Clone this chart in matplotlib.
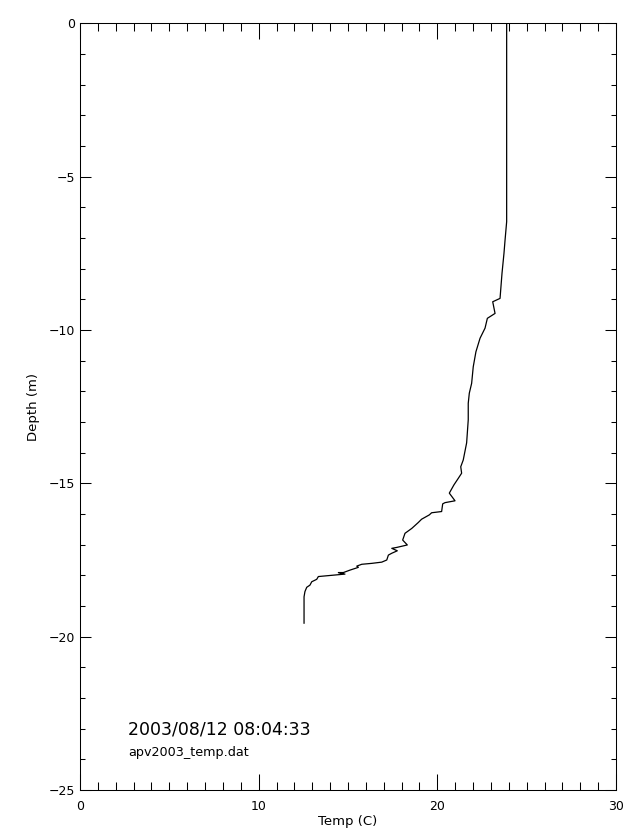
import matplotlib
matplotlib.use("Agg")
import matplotlib.pyplot as plt
from matplotlib.ticker import MultipleLocator

temp = [23.88, 23.88, 23.79, 23.73, 23.62, 23.51, 23.10, 23.23, 22.80, 22.67,
        22.39, 22.16, 22.01, 21.92, 21.79, 21.73, 21.73, 21.64, 21.45, 21.31,
        21.36, 21.17, 20.93, 20.67, 20.99, 20.43, 20.30, 20.24, 19.68, 19.55,
        19.12, 18.93, 18.57, 18.19, 18.06, 18.32, 17.73, 17.45, 17.76, 17.45,
        17.26, 17.17, 16.89, 16.33, 15.77, 15.49, 15.58, 15.11, 14.74, 14.46,
        14.83, 14.27, 13.71, 13.34, 13.25, 12.97, 12.87, 12.69, 12.59, 12.54,
        12.54]
depth = [0.00, -6.47, -7.07, -7.50, -8.15, -8.97, -9.08, -9.46, -9.62, -9.94,
         -10.27, -10.71, -11.20, -11.74, -12.06, -12.39, -12.93, -13.68, -14.24, -14.46,
         -14.67, -14.84, -15.05, -15.32, -15.57, -15.63, -15.67, -15.92, -15.96, -16.03,
         -16.17, -16.28, -16.47, -16.63, -16.85, -17.01, -17.09, -17.12, -17.20, -17.28,
         -17.34, -17.50, -17.57, -17.61, -17.64, -17.70, -17.74, -17.83, -17.91, -17.91,
         -17.96, -17.99, -18.02, -18.04, -18.13, -18.21, -18.32, -18.39, -18.53, -18.70,
         -19.56]

x_ticks = [0, 10, 20, 30]
y_ticks = [-25, -20, -15, -10, -5, 0]
timestamp = "2003/08/12 08:04:33"
filename = "apv2003_temp.dat"

plt.rcParams['font.family'] = ['DejaVu Sans']
fig = plt.figure(figsize=(6.4, 8.4), dpi=100)
ax = fig.add_axes([80/640, 50/840, 536/640, 766.7/840])

ax.plot(temp, depth, color='black', lw=0.9)

ax.set_xlim(0, 30)
ax.set_ylim(-25, 0)
ax.set_xticks(x_ticks)
ax.set_yticks(y_ticks)
ax.xaxis.set_minor_locator(MultipleLocator(1))
ax.yaxis.set_minor_locator(MultipleLocator(1))
ax.tick_params(axis='both', which='both', direction='in', top=True, right=True,
               width=0.75, colors='black', labelsize=9)
ax.tick_params(axis='x', which='major', length=11.3, pad=7.5)
ax.tick_params(axis='x', which='minor', length=5.6)
ax.tick_params(axis='y', which='major', length=8.0, pad=3.5)
ax.tick_params(axis='y', which='minor', length=3.8)
for s in ax.spines.values():
    s.set_linewidth(0.75)

ax.set_xlabel("Temp (C)", fontsize=9.5, va='center')
ax.xaxis.set_label_coords(0.5, (790 - 821) / 766.7)
ax.set_ylabel("Depth (m)", fontsize=9.5, va='center')
ax.yaxis.set_label_coords((33 - 80) / 536, 0.5)

ax.text(2.70, -23.02, timestamp, fontsize=12.5, ha='left', va='center')
ax.text(2.70, -23.78, filename, fontsize=9.2, ha='left', va='center')

fig.savefig("out.png", dpi=100, facecolor='white')
